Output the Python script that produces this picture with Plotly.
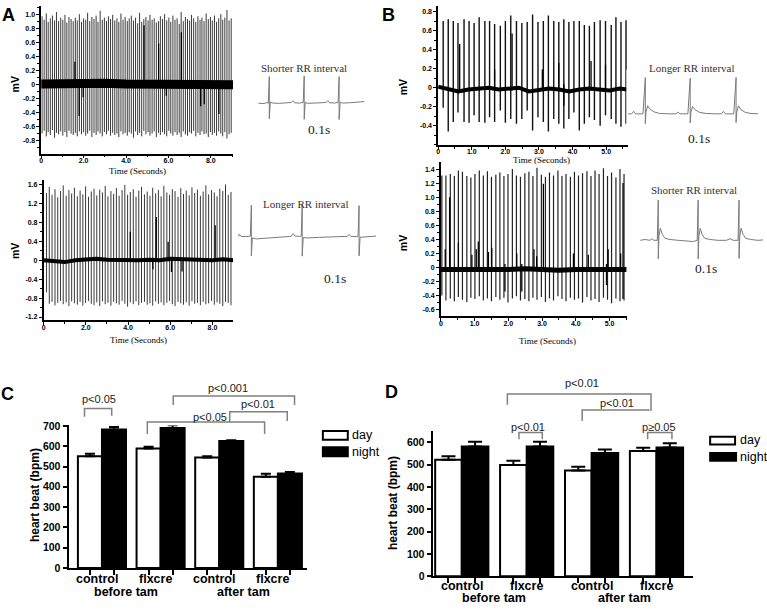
import plotly.graph_objects as go

W, H = 767, 610

# ---------------- ECG data (times in s, amplitudes in mV) ----------------
# A, top: shorter RR interval
a1_t = [0.04, 0.14, 0.24, 0.33, 0.43, 0.53, 0.63, 0.72, 0.82, 0.92,
        1.02, 1.12, 1.21, 1.31, 1.41, 1.51, 1.61, 1.70, 1.80, 1.90,
        2.00, 2.10, 2.19, 2.29, 2.39, 2.49, 2.59, 2.68, 2.78, 2.88,
        2.98, 3.08, 3.17, 3.27, 3.37, 3.47, 3.57, 3.66, 3.76, 3.86,
        3.96, 4.06, 4.15, 4.25, 4.35, 4.45, 4.55, 4.64, 4.74, 4.84,
        4.94, 5.04, 5.13, 5.23, 5.33, 5.43, 5.53, 5.62, 5.72, 5.82,
        5.92, 6.02, 6.11, 6.21, 6.31, 6.41, 6.51, 6.60, 6.70, 6.80,
        6.90, 7.00, 7.09, 7.19, 7.29, 7.39, 7.49, 7.58, 7.68, 7.78,
        7.88, 7.98, 8.07, 8.17, 8.27, 8.37, 8.47, 8.56, 8.66, 8.76,
        8.86, 8.96]
a1_hi = [0.98, 0.93, 1.02, 0.90, 0.95, 0.99, 0.92, 1.04, 0.91, 0.96,
         0.93, 1.00, 0.89, 0.97, 0.94, 0.91, 0.96, 0.92, 1.01, 0.90,
         0.95, 0.93, 1.03, 0.91, 0.97, 0.94, 0.99, 0.90, 1.06, 0.93,
         0.96, 0.91, 0.98, 0.94, 1.00, 0.92, 0.95, 0.90, 1.02, 0.93,
         0.97, 0.91, 0.95, 0.99, 0.92, 0.96, 0.88, 1.03, 0.90, 0.94,
         0.97, 0.92, 1.00, 0.93, 0.95, 0.89, 0.91, 0.98, 0.94, 1.01,
         0.92, 0.96, 0.90, 0.99, 0.93, 0.95, 0.87, 1.04, 0.91, 0.97,
         0.94, 0.92, 1.00, 0.95, 0.90, 0.98, 0.93, 0.96, 0.91, 1.02,
         0.94, 0.97, 0.92, 0.99, 0.90, 0.95, 1.01, 0.93, 0.96, 1.07,
         0.92, 0.95]
a1_lo = [-0.70, -0.66, -0.74, -0.68, -0.72, -0.65, -0.76, -0.69, -0.71, -0.67,
         -0.73, -0.68, -0.75, -0.66, -0.70, -0.72, -0.69, -0.74, -0.67, -0.71,
         -0.68, -0.73, -0.70, -0.66, -0.75, -0.69, -0.72, -0.67, -0.70, -0.74,
         -0.68, -0.71, -0.66, -0.73, -0.69, -0.72, -0.70, -0.75, -0.67, -0.71,
         -0.69, -0.73, -0.68, -0.70, -0.76, -0.67, -0.72, -0.69, -0.74, -0.66,
         -0.71, -0.68, -0.73, -0.70, -0.67, -0.75, -0.69, -0.72, -0.68, -0.71,
         -0.74, -0.66, -0.70, -0.73, -0.68, -0.72, -0.69, -0.75, -0.67, -0.71,
         -0.73, -0.68, -0.70, -0.66, -0.74, -0.69, -0.72, -0.67, -0.71, -0.70,
         -0.75, -0.68, -0.72, -0.69, -0.73, -0.67, -0.70, -0.74, -0.68, -0.77,
         -0.71, -0.69]
a1_x_t = [1.59, 1.79, 1.98, 4.85, 5.54, 5.90, 6.61, 7.52, 7.69, 8.38]
a1_x_hi = [0.33, 0.06, 0.05, 0.85, 0.59, 0.04, 0.75, 0.05, 0.05, 0.06]
a1_x_lo = [-0.03, -0.45, -0.18, -0.04, -0.03, -0.16, -0.05, -0.31, -0.28, -0.42]
a1_base_t = [0, 1, 2, 3, 4, 5, 6, 7, 8, 9.05]
a1_base_v = [0.01, 0.02, 0.01, 0.02, 0.01, 0.01, 0.00, 0.02, 0.01, 0.00]

# A, bottom: longer RR interval
a2_t = [0.14, 0.27, 0.40, 0.54, 0.67, 0.80, 0.93, 1.07, 1.20, 1.33,
        1.46, 1.60, 1.73, 1.86, 1.99, 2.13, 2.26, 2.39, 2.52, 2.66,
        2.79, 2.92, 3.05, 3.19, 3.32, 3.45, 3.58, 3.72, 3.85, 3.98,
        4.11, 4.25, 4.38, 4.51, 4.64, 4.78, 4.91, 5.04, 5.17, 5.31,
        5.44, 5.57, 5.70, 5.84, 5.97, 6.10, 6.23, 6.37, 6.50, 6.63,
        6.76, 6.90, 7.03, 7.16, 7.29, 7.43, 7.56, 7.69, 7.82, 7.96,
        8.09, 8.22, 8.35, 8.49, 8.62, 8.75, 8.88]
a2_hi = [1.42, 1.55, 1.38, 1.50, 1.33, 1.46, 1.58, 1.36, 1.48, 1.41,
         1.53, 1.35, 1.47, 1.39, 1.56, 1.34, 1.45, 1.51, 1.37, 1.49,
         1.43, 1.57, 1.35, 1.46, 1.40, 1.52, 1.36, 1.48, 1.59, 1.38,
         1.44, 1.50, 1.34, 1.47, 1.55, 1.39, 1.45, 1.36, 1.53, 1.41,
         1.48, 1.35, 1.57, 1.43, 1.38, 1.50, 1.46, 1.34, 1.52, 1.40,
         1.47, 1.37, 1.54, 1.42, 1.49, 1.36, 1.45, 1.58, 1.39, 1.48,
         1.43, 1.35, 1.51, 1.46, 1.60, 1.38, 1.44]
a2_lo = [-0.68, -0.92, -0.88, -0.95, -0.90, -0.86, -0.93, -0.89, -0.97, -0.87,
         -0.91, -0.94, -0.88, -0.96, -0.90, -0.86, -0.92, -0.95, -0.89, -0.97,
         -0.87, -0.93, -0.90, -0.96, -0.88, -0.91, -0.94, -0.86, -0.92, -0.98,
         -0.89, -0.93, -0.87, -0.95, -0.90, -0.88, -0.94, -0.91, -0.96, -0.87,
         -0.92, -0.89, -0.95, -0.90, -0.86, -0.93, -0.97, -0.88, -0.91, -0.94,
         -0.89, -0.96, -0.87, -0.92, -0.90, -0.95, -0.88, -0.93, -0.91, -0.86,
         -0.94, -0.89, -0.92, -0.97, -0.88, -0.90, -0.95]
a2_x_t = [4.11, 5.18, 5.34, 5.90, 6.06, 6.56, 8.13]
a2_x_hi = [0.60, 0.05, 0.91, 0.39, 0.05, 0.04, 0.74]
a2_x_lo = [-0.03, -0.19, -0.04, -0.03, -0.25, -0.24, -0.04]
a2_base_t = [0, 0.5, 1.0, 1.5, 2.0, 2.5, 3.0, 3.5, 4.0, 4.5, 5.0, 5.5, 6.0, 6.5,
             7.0, 7.5, 8.0, 8.5, 9.0]
a2_base_v = [0.0, -0.03, -0.04, 0.0, 0.02, 0.03, 0.01, 0.0, 0.01, 0.0, 0.01, 0.0,
             0.03, 0.02, 0.0, 0.01, 0.0, 0.02, 0.0]

# B, top: longer RR interval
b1_t = [0.15, 0.30, 0.45, 0.59, 0.77, 0.92, 1.07, 1.22, 1.39, 1.53,
        1.68, 1.85, 2.00, 2.16, 2.33, 2.49, 2.65, 2.81, 2.97, 3.13,
        3.28, 3.44, 3.59, 3.74, 3.89, 4.04, 4.20, 4.35, 4.50, 4.65,
        4.82, 4.98, 5.15, 5.29, 5.44, 5.59]
b1_hi = [0.70, 0.72, 0.70, 0.68, 0.72, 0.70, 0.68, 0.74, 0.70, 0.70,
         0.67, 0.65, 0.70, 0.76, 0.70, 0.68, 0.69, 0.77, 0.69, 0.70,
         0.76, 0.70, 0.69, 0.72, 0.69, 0.70, 0.70, 0.66, 0.65, 0.69,
         0.71, 0.70, 0.66, 0.74, 0.69, 0.71]
b1_lo = [-0.21, -0.46, -0.36, -0.26, -0.36, -0.37, -0.29, -0.36, -0.37, -0.31,
         -0.36, -0.24, -0.37, -0.33, -0.38, -0.33, -0.24, -0.45, -0.31, -0.36,
         -0.46, -0.33, -0.38, -0.43, -0.33, -0.26, -0.45, -0.38, -0.31, -0.34,
         -0.40, -0.29, -0.33, -0.38, -0.41, -0.38]
b1_x_t = [0.64, 1.68, 2.20, 3.10, 3.59, 3.74, 4.55, 4.98]
b1_x_hi = [0.46, 0.19, 0.57, 0.19, 0.26, 0.04, 0.28, 0.24]
b1_x_lo = [-0.03, -0.03, -0.03, -0.03, -0.03, -0.19, -0.03, -0.03]
b1_base_t = [0, 0.3, 0.6, 0.9, 1.2, 1.5, 1.8, 2.1, 2.4, 2.7, 3.0, 3.3, 3.6, 3.9,
             4.2, 4.5, 4.8, 5.1, 5.4, 5.62]
b1_base_v = [0.01, -0.02, -0.04, -0.02, -0.01, 0.0, -0.02, -0.01, 0.0, -0.04,
             -0.03, -0.01, -0.02, -0.04, -0.02, -0.01, -0.02, -0.03, -0.01, -0.02]

# B, bottom: shorter RR interval
b2_t = [0.03, 0.15, 0.28, 0.40, 0.52, 0.64, 0.77, 0.89, 1.01, 1.14,
        1.26, 1.38, 1.50, 1.63, 1.75, 1.87, 1.99, 2.12, 2.24, 2.36,
        2.49, 2.61, 2.73, 2.85, 2.98, 3.10, 3.22, 3.34, 3.47, 3.59,
        3.71, 3.84, 3.96, 4.08, 4.20, 4.33, 4.45, 4.57, 4.69, 4.82,
        4.94, 5.06, 5.19, 5.31, 5.43]
b2_hi = [1.31, 1.31, 1.33, 1.30, 1.38, 1.36, 1.30, 1.28, 1.33, 1.38,
         1.31, 1.37, 1.29, 1.32, 1.35, 1.30, 1.33, 1.40, 1.31, 1.29,
         1.34, 1.36, 1.30, 1.42, 1.32, 1.29, 1.35, 1.31, 1.38, 1.30,
         1.33, 1.29, 1.36, 1.31, 1.34, 1.37, 1.30, 1.38, 1.33, 1.41,
         1.30, 1.35, 1.28, 1.40, 1.33]
b2_lo = [-0.40, -0.47, -0.44, -0.48, -0.42, -0.46, -0.49, -0.43, -0.45, -0.41,
         -0.47, -0.44, -0.48, -0.42, -0.46, -0.43, -0.50, -0.44, -0.41, -0.47,
         -0.45, -0.48, -0.43, -0.46, -0.42, -0.49, -0.44, -0.47, -0.41, -0.45,
         -0.48, -0.43, -0.46, -0.44, -0.50, -0.42, -0.47, -0.45, -0.49, -0.43,
         -0.46, -0.51, -0.44, -0.48, -0.47]
b2_x_t = [0.13, 0.26, 0.52, 0.92, 1.05, 1.11, 1.41, 1.51, 1.90, 2.25,
          2.40, 2.76, 2.84, 3.04, 3.93, 4.37, 4.91, 4.96, 5.33, 5.40]
b2_x_hi = [0.26, 1.00, 0.35, 0.18, 0.26, 0.37, 0.22, 0.28, 0.05, 0.20,
           0.05, 0.26, 0.16, 1.19, 0.20, 0.18, 0.05, 0.26, 0.20, 1.20]
b2_x_lo = [-0.05, -0.05, -0.05, -0.05, -0.05, -0.05, -0.05, -0.05, -0.34, -0.05,
           -0.34, -0.05, -0.05, -0.05, -0.05, -0.05, -0.25, -0.05, -0.05, -0.45]
b2_base_t = [0, 0.5, 1, 1.5, 2, 2.5, 3, 3.5, 4, 4.5, 5, 5.5]
b2_base_v = [-0.03, -0.03, -0.04, -0.03, -0.03, -0.02, -0.03, -0.04, -0.03, -0.03,
             -0.04, -0.03]

# zoomed-in snippets (three beats each)
ia1_t = [0.006, 0.02, 0.03, 0.036, 0.039, 0.039, 0.042, 0.05, 0.07, 0.09,
         0.105, 0.11, 0.115, 0.13, 0.141, 0.144, 0.144, 0.147, 0.155, 0.175,
         0.195, 0.21, 0.215, 0.22, 0.235, 0.246, 0.249, 0.249, 0.252, 0.26,
         0.28, 0.30, 0.325]
ia1_v = [0.0, -0.02, 0.01, 0.0, 0.90, -0.53, 0.03, 0.0, -0.01, 0.01,
         0.02, 0.08, 0.01, 0.0, 0.02, 0.92, -0.55, 0.02, -0.01, 0.0,
         0.01, 0.02, 0.08, 0.01, 0.0, 0.02, 0.90, -0.56, 0.03, 0.0,
         0.01, 0.02, 0.05]
ia2_t = [0.006, 0.009, 0.014, 0.03, 0.042, 0.045, 0.045, 0.048, 0.06, 0.09,
         0.12, 0.15, 0.165, 0.171, 0.177, 0.19, 0.195, 0.198, 0.198, 0.201,
         0.215, 0.25, 0.29, 0.32, 0.333, 0.339, 0.345, 0.36, 0.366, 0.369,
         0.369, 0.372, 0.385, 0.40, 0.42]
ia2_v = [0.0, 0.07, 0.0, -0.01, 0.01, 1.0, -0.62, -0.05, -0.08, -0.06,
         -0.04, -0.01, 0.0, 0.09, 0.01, 0.0, 0.01, 1.02, -0.63, -0.04,
         -0.05, -0.03, -0.01, 0.0, 0.0, 0.06, 0.0, -0.01, 0.0, 0.98,
         -0.62, -0.03, -0.02, 0.0, 0.01]
ib1_t = [0.006, 0.016, 0.022, 0.028, 0.05, 0.057, 0.057, 0.059, 0.064, 0.072,
         0.085, 0.10, 0.13, 0.149, 0.155, 0.161, 0.185, 0.192, 0.192, 0.194,
         0.199, 0.207, 0.22, 0.24, 0.27, 0.286, 0.292, 0.298, 0.323, 0.33,
         0.33, 0.332, 0.337, 0.345, 0.358, 0.375, 0.396]
ib1_v = [0.0, 0.0, 0.07, 0.0, 0.0, 1.0, -0.27, 0.05, 0.22, 0.12,
         0.05, 0.01, 0.0, 0.0, 0.05, 0.0, 0.0, 0.98, -0.25, 0.05,
         0.20, 0.11, 0.04, 0.01, 0.0, 0.0, 0.07, 0.0, 0.0, 1.0,
         -0.24, 0.05, 0.22, 0.11, 0.04, 0.01, 0.0]
ib2_t = [0.006, 0.02, 0.035, 0.041, 0.047, 0.057, 0.06, 0.06, 0.062, 0.066,
         0.072, 0.08, 0.095, 0.12, 0.15, 0.165, 0.177, 0.18, 0.18, 0.182,
         0.186, 0.192, 0.2, 0.215, 0.24, 0.265, 0.276, 0.285, 0.3, 0.303,
         0.303, 0.305, 0.309, 0.315, 0.323, 0.338, 0.36, 0.375]
ib2_v = [0.0, 0.02, 0.0, 0.04, 0.0, 0.0, 1.0, -0.46, 0.1, 0.3,
         0.15, 0.05, 0.02, 0.0, -0.01, -0.03, 0.0, 1.0, -0.46, 0.1,
         0.3, 0.14, 0.05, 0.02, 0.0, 0.0, 0.04, 0.0, 0.0, 1.0,
         -0.45, 0.1, 0.3, 0.15, 0.05, 0.02, 0.0, 0.01]

# ---------------- heart rate bars (bpm) ----------------
groups = ["control", "flxcre", "control", "flxcre"]
periods = ["before tam", "after tam"]
c_day = [550, 589, 544, 449]
c_day_err = [13, 8, 7, 15]
c_night = [682, 689, 625, 466]
c_night_err = [12, 14, 4, 7]
d_day = [522, 498, 473, 561]
d_day_err = [15, 19, 17, 14]
d_night = [581, 581, 552, 577]
d_night_err = [21, 21, 16, 19]
bpm_ticks = [0, 100, 200, 300, 400, 500, 600, 700]

SANS = "Liberation Sans, Arial, sans-serif"
SERIF = "Liberation Serif, Times New Roman, serif"


def px(v):
    return v / W


def py(v):
    return 1 - v / H


def spike_path(t, hi, lo):
    xs, ys = [], []
    for ti, h, l in zip(t, hi, lo):
        xs += [ti, ti, None]
        ys += [h, l, None]
    return xs, ys


fig = go.Figure()


def add_ecg(n, t, hi, lo, xt, xhi, xlo, bt, bv, base_w, col, lw):
    xa, ya = "x%d" % n, "y%d" % n
    xs, ys = spike_path(t, hi, lo)
    fig.add_trace(go.Scatter(x=xs, y=ys, xaxis=xa, yaxis=ya, mode="lines",
                             line=dict(color=col, width=lw), hoverinfo="skip"))
    fig.add_trace(go.Scatter(x=bt, y=bv, xaxis=xa, yaxis=ya, mode="lines",
                             line=dict(color="black", width=base_w), hoverinfo="skip"))
    xs, ys = spike_path(xt, xhi, xlo)
    fig.add_trace(go.Scatter(x=xs, y=ys, xaxis=xa, yaxis=ya, mode="lines",
                             line=dict(color="black", width=1.3), hoverinfo="skip"))


def ecg_axes(n, xdom, ydom, xr, yr, xtv, xtt, xmin, ytv, ytt, ymin):
    common = dict(showline=True, linecolor="black", linewidth=1.5, ticks="outside",
                  ticklen=3, tickwidth=1.2, tickcolor="black", showgrid=False,
                  zeroline=False, tickfont=dict(family=SANS, size=7, color="black", weight="bold"))
    fig.update_layout(**{
        "xaxis%d" % n: dict(domain=[px(xdom[0]), px(xdom[1])], range=xr, anchor="y%d" % n,
                            tickmode="array", tickvals=xtv, ticktext=xtt,
                            ticklabelstandoff=-4,
                            minor=dict(dtick=xmin, tick0=0, ticks="outside", ticklen=2,
                                       tickcolor="black"), **common),
        "yaxis%d" % n: dict(domain=[py(ydom[1]), py(ydom[0])], range=yr, anchor="x%d" % n,
                            tickmode="array", tickvals=ytv, ticktext=ytt,
                            minor=dict(dtick=ymin, tick0=0, ticks="outside", ticklen=2,
                                       tickcolor="black"), **common),
    })


add_ecg(1, a1_t, a1_hi, a1_lo, a1_x_t, a1_x_hi, a1_x_lo, a1_base_t, a1_base_v, 9,
        "#3a3a3a", 1)
add_ecg(2, a2_t, a2_hi, a2_lo, a2_x_t, a2_x_hi, a2_x_lo, a2_base_t, a2_base_v, 4,
        "#3a3a3a", 1)
add_ecg(3, b1_t, b1_hi, b1_lo, b1_x_t, b1_x_hi, b1_x_lo, b1_base_t, b1_base_v, 4,
        "#111111", 1.4)
add_ecg(4, b2_t, b2_hi, b2_lo, b2_x_t, b2_x_hi, b2_x_lo, b2_base_t, b2_base_v, 5,
        "#222222", 1.2)

ecg_axes(1, (39.3, 231.7), (0, 150.5), [0, 9.05], [-0.986, 1.127],
         [0, 2, 4, 6, 8], ["0", "2.0", "4.0", "6.0", "8.0"], 1,
         [-0.8, -0.6, -0.4, -0.2, 0, 0.2, 0.4, 0.6, 0.8, 1.0],
         ["-0.8", "-0.6", "-0.4", "-0.2", "0", "0.2", "0.4", "0.6", "0.8", "1.0"], 0.1)
ecg_axes(2, (41.7, 231.7), (178, 320.7), [0, 8.98], [-1.271, 1.683],
         [0, 2, 4, 6, 8], ["0", "2.0", "4.0", "6.0", "8.0"], 1,
         [-1.2, -0.8, -0.4, 0, 0.4, 0.8, 1.2, 1.6],
         ["-1.2", "-0.8", "-0.4", "0", "0.4", "0.8", "1.2", "1.6"], 0.2)
ecg_axes(3, (437.3, 628), (0, 142), [0, 5.66], [-0.605, 0.859],
         [0, 1, 2, 3, 4, 5], ["0", "1.0", "2.0", "3.0", "4.0", "5.0"], 0.5,
         [-0.4, -0.2, 0, 0.2, 0.4, 0.6, 0.8],
         ["-0.4", "-0.2", "0", "0.2", "0.4", "0.6", "0.8"], 0.1)
ecg_axes(4, (440, 626.7), (159.3, 316.7), [0, 5.52], [-0.697, 1.498],
         [0, 1, 2, 3, 4, 5], ["0", "1.0", "2.0", "3.0", "4.0", "5.0"], 0.5,
         [-0.6, -0.4, -0.2, 0, 0.2, 0.4, 0.6, 0.8, 1.0, 1.2, 1.4],
         ["-0.6", "-0.4", "-0.2", "0", "0.2", "0.4", "0.6", "0.8", "1.0", "1.2", "1.4"], 0.1)

# insets
insets = [
    (5, ia1_t, ia1_v, (255, 365), (62, 124), [0, 0.33], [-0.833, 1.233]),
    (6, ia2_t, ia2_v, (235, 377), (195, 262), [0, 0.426], [-0.844, 1.25]),
    (7, ib1_t, ib1_v, (626, 760), (65, 128), [0, 0.402], [-0.486, 1.216]),
    (8, ib2_t, ib2_v, (638, 765), (195, 262), [0, 0.381], [-0.56, 1.073]),
]
for n, t, v, xd, yd, xr, yr in insets:
    fig.add_trace(go.Scatter(x=t, y=v, xaxis="x%d" % n, yaxis="y%d" % n, mode="lines",
                             line=dict(color="#7a7a7a", width=1), hoverinfo="skip"))
    fig.update_layout(**{
        "xaxis%d" % n: dict(domain=[px(xd[0]), px(xd[1])], range=xr, visible=False,
                            anchor="y%d" % n),
        "yaxis%d" % n: dict(domain=[py(yd[1]), py(yd[0])], range=yr, visible=False,
                            anchor="x%d" % n),
    })

# ---------------- bar panels ----------------
BW = 0.41
gx = list(range(len(groups)))


def bar_panel(n, day, day_err, night, night_err, capw):
    xa, ya = "x%d" % n, "y%d" % n
    fig.add_trace(go.Bar(x=gx, y=day, width=BW, offset=-BW, xaxis=xa, yaxis=ya,
                         marker=dict(color="white", line=dict(color="black", width=2)),
                         error_y=dict(type="data", symmetric=False, array=day_err,
                                      arrayminus=[0] * len(day), color="black",
                                      thickness=2, width=capw),
                         cliponaxis=False, hoverinfo="skip"))
    fig.add_trace(go.Bar(x=gx, y=night, width=BW, offset=0, xaxis=xa, yaxis=ya,
                         marker=dict(color="black", line=dict(color="black", width=2)),
                         error_y=dict(type="data", symmetric=False, array=night_err,
                                      arrayminus=[0] * len(night), color="black",
                                      thickness=2, width=capw),
                         cliponaxis=False, hoverinfo="skip"))


def bar_axes(n, xdom, ydom, xr, ymax, ytv):
    ticks_at = [g - BW / 2 for g in gx] + [g + BW / 2 for g in gx]
    fig.update_layout(**{
        "xaxis%d" % n: dict(domain=[px(xdom[0]), px(xdom[1])], range=xr, anchor="y%d" % n,
                            showline=True, linecolor="black", linewidth=2, ticks="outside",
                            ticklen=5, tickwidth=2, tickcolor="black", tickmode="array",
                            tickvals=ticks_at, showticklabels=False, showgrid=False,
                            zeroline=False),
        "yaxis%d" % n: dict(domain=[py(ydom[1]), py(ydom[0])], range=[0, ymax],
                            anchor="x%d" % n, showline=True, linecolor="black", linewidth=2,
                            ticks="outside", ticklen=4, tickwidth=2, tickcolor="black",
                            tickmode="array", tickvals=ytv, showgrid=False, zeroline=False,
                            tickfont=dict(family=SANS, size=10.5, color="black",
                                          weight="bold")),
    })


bar_panel(9, c_day, c_day_err, c_night, c_night_err, 5)
bar_panel(10, d_day, d_day_err, d_night, d_night_err, 7)
bar_axes(9, (66.7, 306), (427.9, 573.3), [-0.57, 3.5], 702, bpm_ticks)
bar_axes(10, (431.7, 693.3), (433.4, 581.7), [-0.45, 3.57], 651, bpm_ticks[:-1])

ann = []
shapes = []


def text(x, y, s, size, family=SANS, weight="normal", color="black", angle=0,
         xanchor="center"):
    ann.append(dict(x=px(x), y=py(y), xref="paper", yref="paper", text=s, showarrow=False,
                    xanchor=xanchor, yanchor="middle", textangle=angle,
                    font=dict(family=family, size=size, color=color, weight=weight)))


# panel letters
for s, x, y in [("A", 7, 9), ("B", 388, 9), ("C", 6, 396), ("D", 391, 394)]:
    text(x, y, s, 18, weight="bold")

# ECG axis labels
for x, y in [(13, 80), (13, 250), (402, 83), (402, 242)]:
    text(x, y, "mV", 10.5, weight="bold", angle=-90)
for x, y in [(136, 168), (137, 341), (541, 157), (547, 342)]:
    text(x, y, "Time (Seconds)", 9, family=SERIF)

# inset captions
for s, x, y in [("Shorter RR interval", 303, 63), ("Longer RR interval", 305, 202),
                ("Longer RR interval", 692, 63), ("Shorter RR interval", 694, 188)]:
    text(x, y, s, 11, family=SERIF, color="#333")
for x, y in [(318, 126), (334, 278), (699, 135), (706, 268)]:
    text(x, y, "0.1s", 13.5, family=SERIF, color="#222")

# bar panel titles and category labels
text(33, 499, "heart beat (bpm)", 12, weight="bold", angle=-90)
text(392, 507, "heart beat (bpm)", 12, weight="bold", angle=-90)
for n, yl, yp, shift in [(9, 585, 598, -5), (10, 592, 604, 0)]:
    for g, name in zip(gx, groups):
        ann.append(dict(x=g, y=py(yl), xref="x%d" % n, yref="paper", text=name,
                        showarrow=False, xshift=shift, xanchor="center", yanchor="middle",
                        font=dict(family=SANS, size=12.5, color="black", weight="bold")))
    for i, name in enumerate(periods):
        ann.append(dict(x=(gx[2 * i] + gx[2 * i + 1]) / 2, y=py(yp), xref="x%d" % n,
                        yref="paper", text=name, showarrow=False, xshift=shift,
                        xanchor="center", yanchor="middle",
                        font=dict(family=SANS, size=12.5, color="black", weight="bold")))

# legends
for x0, x1, y0, y1, xt, yt, fill, label in [
        (321.7, 346.7, 433.5, 442.5, 349, 438, "white", "day"),
        (321.7, 346.7, 450, 459.3, 349, 454.5, "black", "night"),
        (710, 735, 439.3, 447.3, 738, 443, "white", "day"),
        (710, 736, 456, 464, 738, 460, "black", "night")]:
    shapes.append(dict(type="rect", xref="paper", yref="paper", x0=px(x0), x1=px(x1),
                       y0=py(y1), y1=py(y0), fillcolor=fill,
                       line=dict(color="black", width=2)))
    text(xt, yt, label, 12.5, xanchor="left")

# significance brackets: x0, x1, top, left leg end, right leg end, label, label x, label y
brackets = [
    (82.7, 110, 410.5, 419, 418, "p<0.05", 97, 401),
    (171.7, 293.3, 397.7, 407, 407, "p<0.001", 227, 390),
    (145.7, 263.3, 424.3, 436.7, 436.7, "p<0.05", 209, 419),
    (228.3, 286, 414, 424.3, 423.3, "p<0.01", 257, 406),
    (506.7, 650.7, 395.7, 406.7, 413, "p<0.01", 582, 385),
    (581.7, 648.3, 412, 423.3, 413, "p<0.01", 617, 405),
    (518.3, 541.7, 435, 442, 442, "p<0.01", 527, 429),
    (647.3, 671.7, 435, 442, 442, "p\u22650.05", 659, 429),
]
for x0, x1, yt, yl0, yl1, s, lx, ly in brackets:
    path = "M%f,%f L%f,%f L%f,%f L%f,%f" % (px(x0), py(yl0), px(x0), py(yt),
                                             px(x1), py(yt), px(x1), py(yl1))
    shapes.append(dict(type="path", xref="paper", yref="paper", path=path,
                       line=dict(color="#808080", width=1.5)))
    text(lx, ly, s, 11, color="#222")

fig.update_layout(
    width=W, height=H, margin=dict(l=0, r=0, t=0, b=0),
    paper_bgcolor="white", plot_bgcolor="white",
    showlegend=False, barmode="overlay",
    annotations=ann, shapes=shapes,
    font=dict(family=SANS, color="black"),
)

fig.write_html("out.html", config={"displayModeBar": False},
               post_script="document.body.style.margin='0';")
